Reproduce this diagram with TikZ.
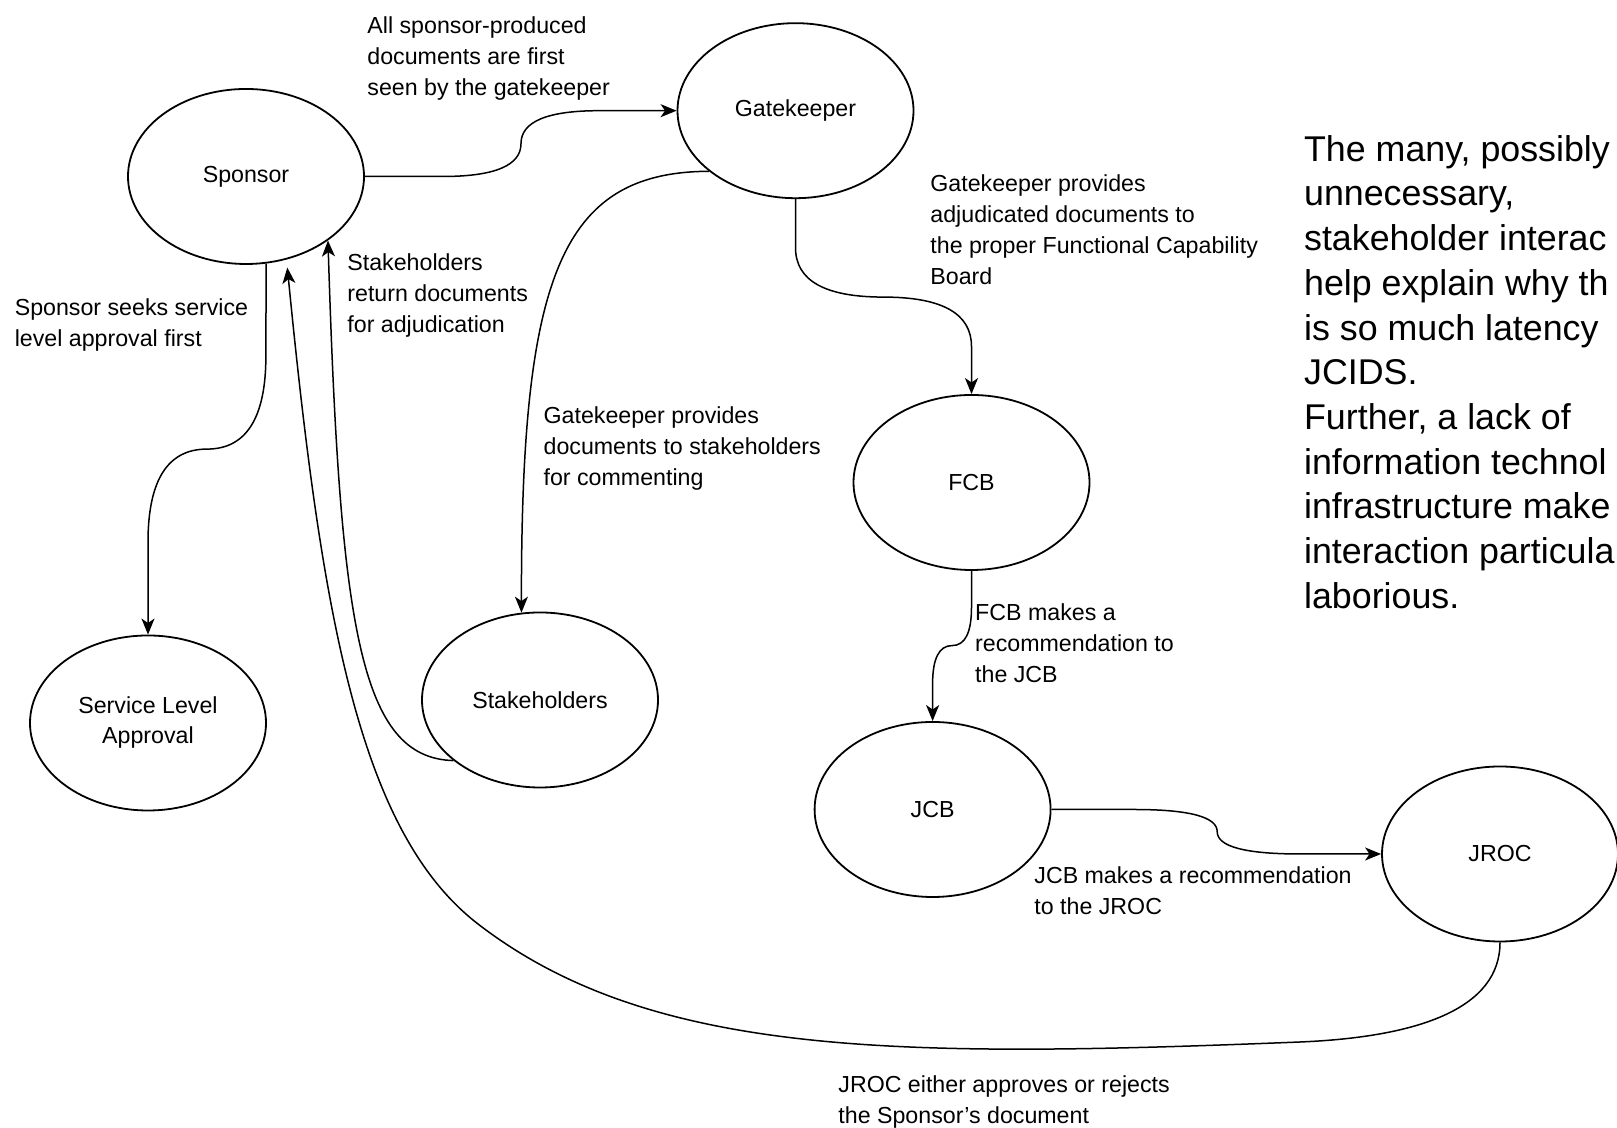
\documentclass[tikz,border=0pt]{standalone}
\usepackage{fontspec}
\setmainfont{Liberation Sans}
\usetikzlibrary{shapes.geometric,arrows.meta}
\tikzset{
  jcstage/.style={ellipse, draw=black, line width=0.9pt, minimum width=118pt, minimum height=87.5pt, inner sep=0pt, align=center, font=\fontsize{11.6}{15}\selectfont},
  jcflow/.style={line width=0.75pt, draw=black, -{Stealth[length=8pt,width=6.5pt,inset=2.2pt]}},
  jclabel/.style={anchor=north west, inner sep=0pt, align=left, font=\fontsize{11.6}{15.5}\selectfont},
  jcnote/.style={anchor=north west, inner sep=0pt, align=left, font=\fontsize{17.9}{22.35}\selectfont},
}
\begin{document}
\begin{tikzpicture}[x=0.5pt, y=0.5pt]
\useasboundingbox[fill=white] (0,0) rectangle (1617,1128);
\clip (0,0) rectangle (1617,1128);
% stages
\node[jcstage] (sponsor) at (246,951.5) {Sponsor};
\node[jcstage] (gate) at (795.5,1017.3) {Gatekeeper};
\node[jcstage] (sla) at (148,405) {Service Level\\Approval};
\node[jcstage] (stake) at (540,428) {Stakeholders};
\node[jcstage] (fcb) at (971.5,645.5) {FCB};
\node[jcstage] (jcb) at (932.6,318.5) {JCB};
\node[jcstage] (jroc) at (1500,274) {JROC};
% flows
\draw[jcflow] (sponsor.east) -- (442.5,951.5) .. controls (494.8,951.5) and (521,962.5) .. (521,984.4) .. controls (521,1006.3) and (547.1,1017.3) .. (599.3,1017.3) -- (gate.west);
\draw[jcflow] (sponsor.-77) -- (265.9,772.1) .. controls (265.9,710) and (246.2,678.9) .. (207,678.9) .. controls (167.7,678.9) and (148,647.8) .. (148,585.7) -- (sla.north);
\draw[jcflow] (gate.215) .. controls (560,956) and (521,850) .. (stake.102);
\draw[jcflow] (stake.215) .. controls (360,370) and (340,500) .. (sponsor.-38);
\draw[jcflow] (gate.south) -- (795.5,880.4) .. controls (795.5,847.4) and (824.8,830.9) .. (883.5,830.9) .. controls (942.2,830.9) and (971.5,814.4) .. (971.5,781.5) -- (fcb.north);
\draw[jcflow] (fcb.south) -- (971.5,520.7) .. controls (971.5,495.2) and (965,482.4) .. (952.1,482.4) .. controls (939.1,482.4) and (932.6,469.6) .. (932.6,444.1) -- (jcb.north);
\draw[jcflow] (jcb.east) -- (1133.8,318.5) .. controls (1189.4,318.5) and (1217.2,311.1) .. (1217.2,296.3) .. controls (1217.2,281.4) and (1245,274) .. (1300.6,274) -- (jroc.west);
\draw[jcflow, shorten >=4pt] (jroc.south) .. controls (1500,120) and (1420,91) .. (1300,86) .. controls (900,70) and (652,70) .. (478,204) .. controls (359.5,295.5) and (321.8,510) .. (sponsor.-64);
% labels
\node[jclabel] (lsend) at (367,1112) {All sponsor-produced\\documents are first\\seen by the gatekeeper};
\node[jclabel] (lreturn) at (347,874.4) {Stakeholders\\return documents\\for adjudication};
\node[jclabel] (lseek) at (14.4,829.4) {Sponsor seeks service\\level approval first};
\node[jclabel] (lcomment) at (543.2,721.5) {Gatekeeper provides\\documents to stakeholders\\for commenting};
\node[jclabel] (ladj) at (930,953.5) {Gatekeeper provides\\adjudicated documents to\\the proper Functional Capability\\Board};
\node[jclabel] (lfcb) at (974.8,524.4) {FCB makes a\\recommendation to\\the JCB};
\node[jclabel] (ljcb) at (1034,262) {JCB makes a recommendation\\to the JROC};
\node[jclabel] (ljroc) at (838,53.2) {JROC either approves or rejects\\the Sponsor's document};
% side note
\node[jcnote] (note) at (1303.7,993.1) {The many, possibly\\unnecessary,\\stakeholder interac\\help explain why th\\is so much latency\\JCIDS.\\Further, a lack of\\information technol\\infrastructure make\\interaction particula\\laborious.};
\end{tikzpicture}
\end{document}
